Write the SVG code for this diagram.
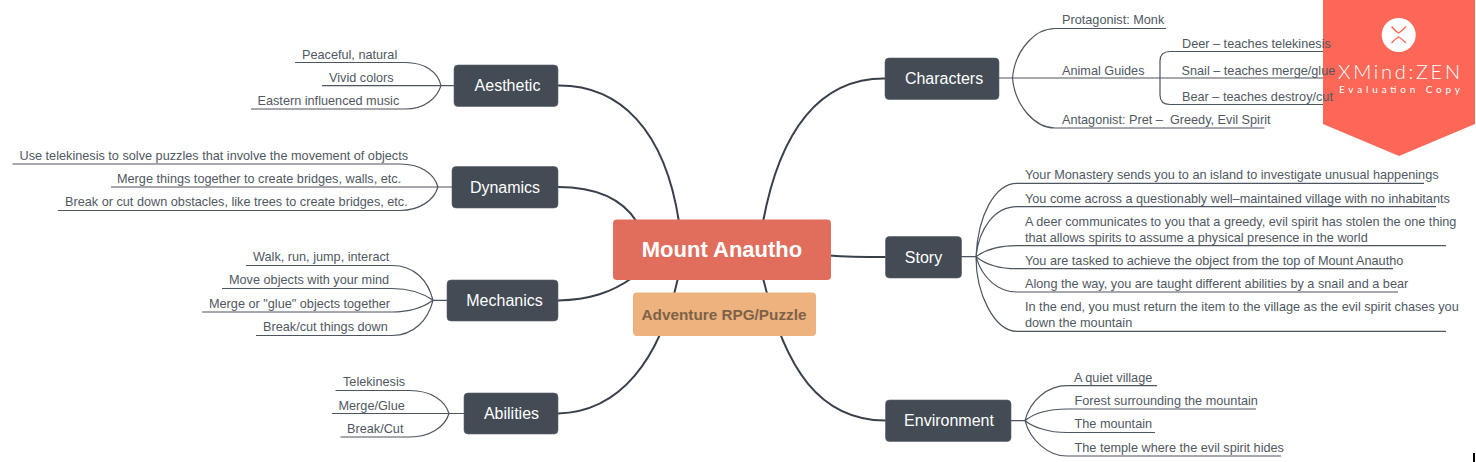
<svg xmlns="http://www.w3.org/2000/svg" width="1476" height="462" viewBox="0 0 1476 462">
<style>
text{font-family:"Liberation Sans",Arial,sans-serif;white-space:pre}
.leaf{font-size:12.7px;fill:#505862}
.topic{font-size:16px;fill:#fff;text-anchor:middle}
.main{fill:none;stroke:#38414b;stroke-width:2;stroke-linecap:round}
.sub{fill:none;stroke:#4d5560;stroke-width:1.2}
.box{fill:#434b55;stroke:#5a626c;stroke-width:.6}
</style>
<rect width="1476" height="462" fill="#fff"/>
<g id="connectors">
<path class="main" d="M558 85.5C620 85 665 130 679 222"/>
<path class="main" d="M558 187C590 187 620 195 637 222"/>
<path class="main" d="M558 300.5C590 300 612 292 632 278"/>
<path class="main" d="M558 413.5C620 412 660 360 678 278"/>
<path class="main" d="M885 78.5C820 78 780 130 763 222"/>
<path class="main" d="M885 420.5C820 420 785 370 763 278"/>
<path class="main" d="M829 255.500C850 257 865 257 885 257"/>
<path class="sub" d="M454 85.6H441M295 62.5H405C425 62.5 438 72 441 85.6M322 85.6H441M251 109H405C425 109 437 98 441 85.6"/>
<path class="sub" d="M452 187H438M12.5 164H400C420 164 434 173 438 187M111 187H438M58 210.5H400C420 210.5 434 200 438 187"/>
<path class="sub" d="M447 300.3H433M246 265.5H392C414 265.5 428 280 433 300.3M222 288.5H392C410 288.5 424 294 433 300.3M202 312H392C410 312 424 307 433 300.3M256 335.5H392C414 335.5 428 320 433 300.3"/>
<path class="sub" d="M464 413.5H449M335.5 390.5H410C430 390.5 445 400 449 413.5M332 413.5H449M340.5 437H410C430 437 445 427 449 413.5"/>
<path class="sub" d="M999 78H1330M1012.5 78C1015 50 1035 28.5 1055 28.5H1166M1012.5 78C1015 106 1035 128 1055 128H1264.5M1160 78V61Q1160 51.5 1170 51.5H1326M1160 78V95Q1160 104.5 1170 104.5H1328"/>
<path class="sub" d="M961 256.7H976M976 256.7C978 215 995 183.3 1017 183.3H1424M976 256.7C979 228 995 206.7 1017 206.7H1436M976 256.7C985 250 1000 245.7 1017 245.7H1446M976 256.7C985 264 1000 268.7 1017 268.7H1393M976 256.7C982 278 998 292 1017 292H1398M976 256.7C976 295 995 331.3 1017 331.3H1446"/>
<path class="sub" d="M1011 420.7H1025M1025 420.7C1030 400 1048 385.7 1067 385.7H1157M1025 420.7C1033 414 1048 409 1067 409H1256M1025 420.7C1033 427 1048 432.5 1067 432.5H1155M1025 420.7C1030 440 1048 456 1067 456H1281"/>
</g>
<g id="watermark">
<path d="M1323 0H1475V124L1399 156L1323 124Z" fill="#fd6757"/>
<circle cx="1398.700" cy="35" r="17" fill="#fff"/>
<path d="M1391.500 26.500Q1395 31 1398.700 33Q1402 31 1406 26.500M1391.500 43Q1395 39 1398.700 37Q1402 39 1406 43" fill="none" stroke="#fd6757" stroke-width="1.4"/>
<text x="1338" y="79" font-size="20" fill="#fff" textLength="122" style="font-family:Lato,sans-serif;font-weight:300">XMind:ZEN</text>
<text x="1339" y="92.500" font-size="10" fill="#fff" textLength="121" style="font-family:Lato,sans-serif">Evaluation Copy</text>
</g>
<rect id="edge-mark" x="1473" y="453" width="2" height="9" fill="#000"/>
<g id="central"><rect x="613" y="219.500" width="218" height="60.500" rx="4" fill="#e16e5d"/><text x="722" y="257" font-size="22" font-weight="700" fill="#fff" text-anchor="middle">Mount Anautho</text></g>
<g id="subtitle"><rect x="633" y="292.500" width="183" height="43.500" rx="4" fill="#eeb27e"/><text x="724" y="320" font-size="15.300" font-weight="700" fill="#7d6248" text-anchor="middle">Adventure RPG/Puzzle</text></g>
<g id="aesthetic"><rect class="box" x="454" y="65" width="104" height="41.500" rx="4"/><text class="topic" x="507.500" y="91">Aesthetic</text>
<text class="leaf" x="302" y="58.500">Peaceful, natural</text><text class="leaf" x="329" y="81.500">Vivid colors</text><text class="leaf" x="257.500" y="105">Eastern influenced music</text></g>
<g id="dynamics"><rect class="box" x="452" y="166.500" width="106" height="41.500" rx="4"/><text class="topic" x="505" y="193">Dynamics</text>
<text class="leaf" x="19.500" y="160">Use telekinesis to solve puzzles that involve the movement of objects</text><text class="leaf" x="117" y="183">Merge things together to create bridges, walls, etc.</text><text class="leaf" x="65" y="206">Break or cut down obstacles, like trees to create bridges, etc.</text></g>
<g id="mechanics"><rect class="box" x="447" y="280" width="111" height="41" rx="4"/><text class="topic" x="504.500" y="306">Mechanics</text>
<text class="leaf" x="253" y="261">Walk, run, jump, interact</text><text class="leaf" x="229" y="284">Move objects with your mind</text><text class="leaf" x="209" y="308">Merge or "glue" objects together</text><text class="leaf" x="263" y="331">Break/cut things down</text></g>
<g id="abilities"><rect class="box" x="464" y="393" width="94" height="41" rx="4"/><text class="topic" x="511.500" y="419">Abilities</text>
<text class="leaf" x="343" y="386">Telekinesis</text><text class="leaf" x="338.500" y="410">Merge/Glue</text><text class="leaf" x="347" y="433">Break/Cut</text></g>
<g id="characters"><rect class="box" x="885" y="58" width="114" height="41.500" rx="4"/><text class="topic" x="944" y="84">Characters</text>
<text class="leaf" x="1062" y="24">Protagonist: Monk</text><text class="leaf" x="1062" y="74.500">Animal Guides</text><text class="leaf" x="1182" y="48">Deer – teaches telekinesis</text><text class="leaf" x="1181.500" y="74.500">Snail – teaches merge/glue</text><text class="leaf" x="1182" y="101">Bear – teaches destroy/cut</text><text class="leaf" x="1062" y="124">Antagonist: Pret –  Greedy, Evil Spirit</text></g>
<g id="story"><rect class="box" x="885.500" y="236.500" width="76" height="41.500" rx="4"/><text class="topic" x="923.500" y="262.500">Story</text>
<text class="leaf" x="1025" y="179">Your Monastery sends you to an island to investigate unusual happenings</text><text class="leaf" x="1025" y="203">You come across a questionably well–maintained village with no inhabitants</text><text class="leaf" x="1025" y="226">A deer communicates to you that a greedy, evil spirit has stolen the one thing</text><text class="leaf" x="1025" y="242">that allows spirits to assume a physical presence in the world</text><text class="leaf" x="1025" y="265">You are tasked to achieve the object from the top of Mount Anautho</text><text class="leaf" x="1025" y="288">Along the way, you are taught different abilities by a snail and a bear</text><text class="leaf" x="1025" y="311">In the end, you must return the item to the village as the evil spirit chases you</text><text class="leaf" x="1025" y="327">down the mountain</text></g>
<g id="environment"><rect class="box" x="885.500" y="400" width="125.500" height="41.500" rx="4"/><text class="topic" x="949" y="426">Environment</text>
<text class="leaf" x="1074" y="382">A quiet village</text><text class="leaf" x="1074.500" y="405">Forest surrounding the mountain</text><text class="leaf" x="1074.500" y="428">The mountain</text><text class="leaf" x="1074.500" y="451.500">The temple where the evil spirit hides</text></g>
</svg>
